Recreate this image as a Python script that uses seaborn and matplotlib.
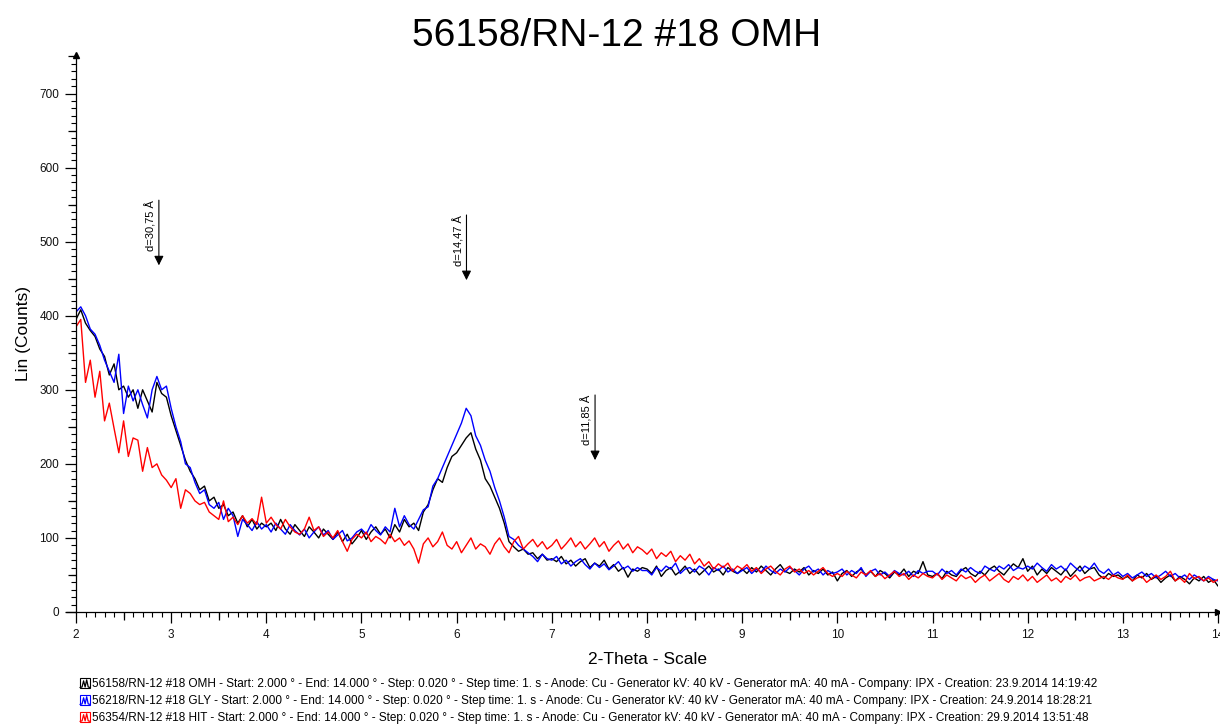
import numpy as np
import pandas as pd
import matplotlib
matplotlib.use("Agg")
import matplotlib.pyplot as plt
from matplotlib.lines import Line2D
from matplotlib.patches import Rectangle
from matplotlib.legend_handler import HandlerBase
from matplotlib.ticker import MultipleLocator
import seaborn as sns

# ---------------- data ----------------
title = "56158/RN-12 #18 OMH"
theta_start = 2.0
theta_end = 14.0
n_points = 241

omh = [395, 408, 390, 380, 372, 355, 345, 320, 335, 300, 305, 290, 300, 275, 300, 285, 270, 310, 295, 290,
       265, 245, 225, 205, 190, 180, 165, 170, 150, 155, 140, 145, 130, 135, 120, 130, 115, 125, 112, 120,
       115, 120, 110, 125, 112, 105, 118, 110, 102, 115, 108, 100, 112, 105, 98, 108, 95, 105, 92, 100,
       110, 98, 108, 115, 105, 112, 100, 118, 108, 125, 115, 120, 110, 135, 145, 165, 180, 175, 195, 210,
       215, 225, 235, 242, 220, 205, 180, 170, 155, 140, 120, 95, 88, 82, 85, 78, 80, 72, 78, 70,
       72, 68, 75, 65, 70, 62, 68, 72, 60, 66, 62, 70, 58, 64, 55, 60, 47, 58, 55, 60,
       58, 52, 62, 48, 56, 60, 50, 55, 62, 52, 58, 50, 56, 62, 54, 58, 50, 60, 55, 52,
       58, 52, 60, 54, 62, 56, 50, 58, 64, 55, 52, 58, 54, 60, 50, 56, 52, 58, 50, 54,
       42, 52, 56, 48, 54, 58, 50, 55, 48, 56, 52, 46, 54, 50, 58, 48, 55, 52, 68, 50,
       48, 52, 45, 55, 50, 48, 56, 60, 52, 48, 55, 50, 58, 62, 55, 50, 58, 65, 60, 72,
       55, 62, 50, 58, 52, 60, 55, 50, 58, 48, 55, 62, 52, 58, 60, 50, 45, 52, 48, 50,
       45, 48, 42, 50, 46, 52, 44, 48, 40, 46, 50, 42, 48, 44, 38, 46, 42, 48, 40, 44, 35]

gly = [405, 412, 400, 382, 375, 360, 340, 325, 310, 348, 268, 305, 285, 300, 280, 262, 300, 318, 300, 305,
       275, 250, 230, 200, 195, 175, 160, 165, 145, 140, 148, 125, 140, 130, 102, 125, 118, 110, 122, 112,
       118, 108, 120, 112, 105, 118, 110, 104, 112, 100, 108, 115, 104, 110, 98, 104, 110, 96, 100, 108,
       112, 105, 118, 110, 104, 115, 108, 140, 115, 130, 118, 112, 125, 138, 142, 170, 180, 195, 210, 225,
       240, 255, 275, 265, 238, 225, 205, 190, 168, 150, 128, 102, 98, 90, 85, 80, 75, 68, 78, 72,
       70, 75, 65, 70, 62, 68, 72, 64, 58, 66, 60, 65, 57, 62, 68, 58, 62, 55, 60, 56,
       56, 50, 60, 55, 62, 58, 66, 52, 58, 60, 54, 62, 58, 50, 60, 56, 62, 54, 58, 52,
       56, 60, 52, 58, 54, 62, 56, 52, 58, 54, 60, 56, 50, 58, 62, 54, 58, 50, 56, 52,
       54, 58, 50, 56, 52, 60, 48, 55, 58, 50, 54, 48, 56, 52, 50, 55, 48, 56, 52, 55,
       55, 50, 58, 52, 56, 50, 58, 54, 60, 55, 52, 62, 58, 55, 62, 58, 64, 56, 60, 58,
       62, 58, 66, 60, 55, 64, 58, 62, 56, 66, 60, 55, 62, 58, 66, 56, 52, 58, 50, 54,
       48, 52, 46, 50, 54, 48, 52, 46, 50, 55, 48, 52, 46, 50, 44, 50, 46, 42, 48, 44, 42]

hit = [385, 395, 310, 340, 290, 325, 258, 282, 248, 215, 258, 210, 235, 232, 190, 222, 195, 200, 185, 178,
       168, 180, 140, 165, 160, 150, 145, 148, 135, 130, 125, 150, 122, 128, 118, 130, 120, 126, 118, 155,
       120, 128, 118, 112, 125, 115, 108, 105, 112, 128, 110, 115, 102, 108, 100, 110, 95, 82, 98, 105,
       100, 108, 95, 102, 98, 92, 105, 95, 100, 90, 96, 85, 66, 92, 100, 88, 95, 108, 90, 85,
       95, 80, 90, 100, 85, 92, 88, 78, 92, 100, 88, 80, 95, 102, 85, 92, 98, 88, 95, 85,
       90, 98, 85, 92, 100, 88, 95, 85, 92, 100, 88, 95, 82, 90, 96, 85, 92, 80, 88, 84,
       78, 85, 72, 80, 75, 82, 68, 76, 70, 78, 65, 72, 62, 68, 58, 65, 60, 66, 55, 62,
       58, 64, 55, 60, 52, 58, 62, 55, 50, 58, 62, 54, 58, 52, 56, 50, 55, 60, 52, 48,
       52, 48, 55, 50, 46, 54, 50, 56, 48, 52, 45, 50, 55, 48, 52, 44, 50, 46, 52, 48,
       46, 52, 44, 50, 46, 42, 50, 45, 48, 40, 46, 50, 42, 47, 52, 44, 40, 48, 44, 50,
       42, 48, 40, 45, 50, 42, 46, 40, 48, 44, 50, 42, 46, 48, 42, 45, 48, 44, 50, 46,
       44, 50, 42, 46, 48, 40, 45, 50, 44, 48, 55, 42, 46, 40, 52, 45, 48, 42, 46, 40, 44]

series_names = ["OMH", "GLY", "HIT"]
series_colors = ["#000000", "#0000FF", "#FF0000"]
legend_labels = [
    "56158/RN-12 #18 OMH - Start: 2.000 ° - End: 14.000 ° - Step: 0.020 ° - Step time: 1. s - Anode: Cu - Generator kV: 40 kV - Generator mA: 40 mA - Company: IPX - Creation: 23.9.2014 14:19:42",
    "56218/RN-12 #18 GLY - Start: 2.000 ° - End: 14.000 ° - Step: 0.020 ° - Step time: 1. s - Anode: Cu - Generator kV: 40 kV - Generator mA: 40 mA - Company: IPX - Creation: 24.9.2014 18:28:21",
    "56354/RN-12 #18 HIT - Start: 2.000 ° - End: 14.000 ° - Step: 0.020 ° - Step time: 1. s - Anode: Cu - Generator kV: 40 kV - Generator mA: 40 mA - Company: IPX - Creation: 29.9.2014 13:51:48",
]

d_values = [30.75, 14.47, 11.85]
d_labels = ["d=30,75 Å", "d=14,47 Å", "d=11,85 Å"]
d_arrow_top = [556, 536, 293]
d_arrow_bottom = [468, 448, 205]
wavelength = 1.5406

# ---------------- build ----------------
theta = np.linspace(theta_start, theta_end, n_points)
df = pd.concat([
    pd.DataFrame({"2theta": theta, "counts": vals, "sample": name})
    for name, vals in zip(series_names, [omh, gly, hit])
])

sns.set_style("white")
plt.rcParams["font.family"] = ["Liberation Sans", "DejaVu Sans"]
plt.rcParams["text.color"] = "black"
plt.rcParams["axes.labelcolor"] = "black"

fig = plt.figure(figsize=(12.2, 7.25), dpi=100)
ax = fig.add_axes([76 / 1220, 1 - 612 / 725, (1218 - 76) / 1220, (612 - 55) / 725])

sns.lineplot(data=df, x="2theta", y="counts", hue="sample", hue_order=series_names,
             palette=series_colors, linewidth=1.0, legend=False, ax=ax, estimator=None)

ax.set_xlim(theta_start, theta_end)
ax.set_ylim(0, 752)
ax.xaxis.set_major_locator(MultipleLocator(1))
ax.xaxis.set_minor_locator(MultipleLocator(0.1))
ax.yaxis.set_major_locator(MultipleLocator(100))
ax.yaxis.set_minor_locator(MultipleLocator(10))
ax.tick_params(axis="both", which="major", direction="out", length=8, width=0.9,
               labelsize=8.5, color="black", labelcolor="#111111", pad=4,
               bottom=True, left=True)
ax.tick_params(axis="both", which="minor", direction="out", length=3.5, width=0.8,
               color="black", bottom=True, left=True)
ax.xaxis.set_major_formatter(matplotlib.ticker.FuncFormatter(lambda v, p: f"{v:g}"))
for s in ["top", "right"]:
    ax.spines[s].set_visible(False)
for s in ["left", "bottom"]:
    ax.spines[s].set_color("black")
    ax.spines[s].set_linewidth(0.9)

# medium ticks at the half-way marks
secx = ax.secondary_xaxis("bottom")
secx.set_xticks(np.arange(theta_start + 0.5, theta_end, 1.0))
secx.tick_params(length=5.5, width=0.9, direction="out", labelbottom=False, bottom=True, color="black")
secx.spines["bottom"].set_visible(False)
secy = ax.secondary_yaxis("left")
secy.set_yticks(np.arange(50, 752, 100))
secy.tick_params(length=5.5, width=0.9, direction="out", labelleft=False, left=True, color="black")
secy.spines["left"].set_visible(False)

ax.plot([0], [1], marker="^", color="black", markersize=5, transform=ax.transAxes, clip_on=False)
ax.plot([1], [0], marker=">", color="black", markersize=5, transform=ax.transAxes, clip_on=False)
ax.plot([-10 / 1142, 0], [0, 0], color="black", lw=0.9, transform=ax.transAxes, clip_on=False)

ax.set_xlabel("2-Theta - Scale", fontsize=12.5, labelpad=8)
ax.set_ylabel("Lin (Counts)", fontsize=12.5, labelpad=6)
fig.suptitle(title, fontsize=28, y=0.975, x=0.505, color="black")

for d, lab, yt, yb in zip(d_values, d_labels, d_arrow_top, d_arrow_bottom):
    tt = 2 * np.degrees(np.arcsin(wavelength / (2 * d)))
    ax.annotate("", xy=(tt, yb), xytext=(tt, yt),
                arrowprops=dict(arrowstyle="-|>", color="black", lw=0.8,
                                mutation_scale=14, shrinkA=0, shrinkB=0))
    ax.annotate(lab, xy=(tt, yt), xytext=(-1.5, 0), textcoords="offset points",
                rotation=90, ha="right", va="top", fontsize=8)


class BoxSquiggle(HandlerBase):
    def create_artists(self, legend, orig_handle, xdescent, ydescent, width, height, fontsize, trans):
        c = orig_handle.get_color()
        s = height * 1.25
        x0 = -xdescent
        y0 = -ydescent - (s - height) / 2
        box = Rectangle((x0, y0), s, s, fill=False, edgecolor=c, lw=0.8, transform=trans)
        zx = [x0, x0 + 0.2 * s, x0 + 0.35 * s, x0 + 0.5 * s, x0 + 0.65 * s, x0 + 0.8 * s, x0 + s]
        zy = [y0 + 0.05 * s, y0 + 0.1 * s, y0 + 0.7 * s, y0 + 0.1 * s, y0 + 0.8 * s, y0 + 0.1 * s, y0 + 0.05 * s]
        zig = Line2D(zx, zy, color=c, lw=0.9, transform=trans)
        return [box, zig]


handles = [Line2D([], [], color=c, lw=0.9) for c in series_colors]
fig.legend(handles, legend_labels, loc="upper left", bbox_to_anchor=(80 / 1220, 1 - 678 / 725),
           frameon=False, fontsize=8.45, handlelength=0.9, handletextpad=0.15,
           labelspacing=0.42, borderpad=0, borderaxespad=0,
           handler_map={Line2D: BoxSquiggle()})

fig.savefig("out.png", dpi=100)
